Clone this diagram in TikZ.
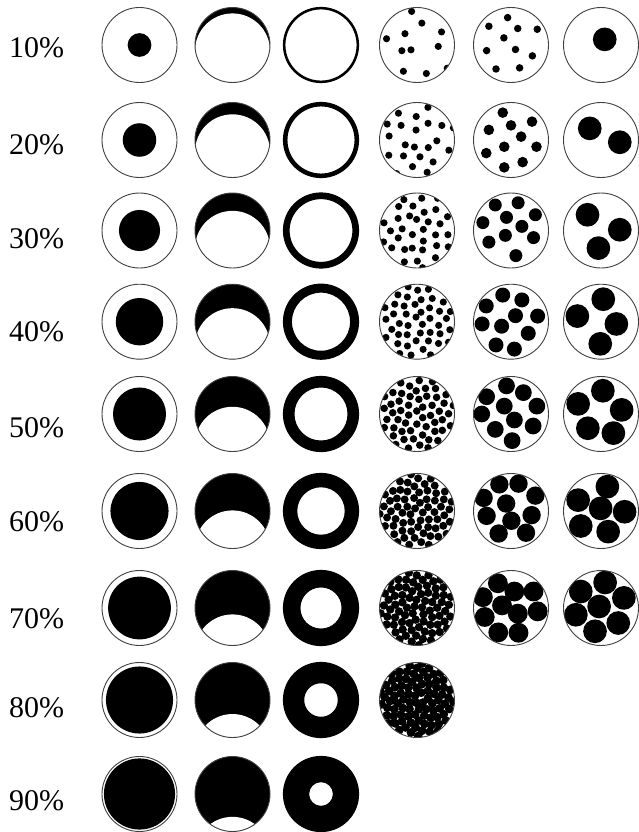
\documentclass[tikz,border=0pt]{standalone}
\usepackage{fontspec}
\setmainfont{Liberation Serif}

\begin{document}
\begin{tikzpicture}[
  x=1pt, y=-1pt,
  rim/.style={draw=black!75, line width=0.9pt},
  pct/.style={font=\fontsize{30}{32}\selectfont, anchor=base west, inner sep=0pt}
]
\def\R{37.5}
\useasboundingbox (0,0) rectangle (638,832);

% --- Row labels and cell centres ---------------------------------------------
\foreach \k/\yc/\yb in {1/45/58,2/140/154,3/230.5/248,4/321.7/341,5/414/437,
                        6/511/531,7/608/628,8/700/717,9/794/810}{
  \node[pct] (lab\k) at (9,\yb) {\k0\%};
  \coordinate (c1-\k) at (139.5,\yc);
  \coordinate (c2-\k) at (232.5,\yc);
  \coordinate (c3-\k) at (321,\yc);
  \coordinate (c4-\k) at (417,\yc);
  \coordinate (c5-\k) at (511,\yc);
  \coordinate (c6-\k) at (601,\yc);
}

% --- Column 1: central disc --------------------------------------------------
\foreach \k in {1,...,9}{
  \fill (c1-\k) circle ({\R*sqrt(\k/10)*1pt});
  \draw[rim] (c1-\k) circle (\R pt);
}

% --- Column 2: crescent (offset circle cut out) ------------------------------
\foreach \k/\xs in {1/0.0788,2/0.1577,3/0.2379,4/0.3197,5/0.4039,
                    6/0.492,7/0.5853,8/0.687,9/0.8045}{
  \begin{scope}[shift={(c2-\k)}]
    \clip (0,0) circle (\R pt);
    \fill (0,0) circle (\R pt);
    \fill[white] (0,{2*\xs*\R}) circle (\R pt);
  \end{scope}
  \draw[rim] (c2-\k) circle (\R pt);
}

% --- Column 3: ring ----------------------------------------------------------
\foreach \k in {1,...,9}{
  \fill[even odd rule] (c3-\k) circle (\R pt) (c3-\k) circle ({\R*sqrt(1-\k/10)*1pt});
  \draw[draw=black, line width=1.2pt] (c3-\k) circle (\R pt);
}

% --- Column 4: many fine particles -------------------------------------------
\pgfmathsetseed{4217}
\foreach \k in {1,...,8}{
  \pgfmathtruncatemacro\N{11*\k}
  \pgfmathsetmacro\jit{max(0,0.4*(sqrt(pi/\N)-0.19))}
  \pgfmathsetmacro\rot{360*rnd}
  \pgfmathsetmacro\rp{3.57*(1+0.06*max(0,\k-4))}
  \begin{scope}[shift={(c4-\k)}]
    \clip (0,0) circle (\R pt);
    \foreach \i in {1,...,\N}{
      \pgfmathsetmacro\rr{1.0*sqrt((\i-0.5)/\N)}
      \pgfmathsetmacro\aa{\i*137.508+\rot}
      \fill ({(\rr*cos(\aa)+\jit*rand)*\R},{(\rr*sin(\aa)+\jit*rand)*\R}) circle (\rp pt);
    }
  \end{scope}
  \draw[rim] (c4-\k) circle (\R pt);
}

% --- Column 5: ten particles -------------------------------------------------
\foreach \k/\pts in {
  1/{-0.09/-0.73,-0.59/-0.50,0.18/-0.44,0.70/-0.42,-0.19/-0.19,-0.65/0.15,0.12/0.12,0.57/0.29,-0.40/0.64,0.23/0.61},
  2/{-0.22/-0.73,-0.59/-0.27,0.00/-0.39,0.56/-0.49,0.27/-0.09,-0.18/0.18,0.68/0.18,-0.66/0.35,0.31/0.59,-0.18/0.73},
  3/{-0.42/-0.68,0.19/-0.74,0.65/-0.42,-0.75/-0.21,-0.12/-0.35,0.29/-0.11,-0.15/0.13,0.60/0.19,-0.59/0.31,0.13/0.67},
  4/{-0.22/-0.71,-0.66/-0.42,0.29/-0.58,0.12/-0.16,0.71/-0.15,-0.77/0.06,-0.25/0.12,0.46/0.31,-0.40/0.62,0.09/0.73},
  5/{-0.12/-0.75,-0.65/-0.46,0.33/-0.57,-0.18/-0.21,0.69/-0.21,-0.78/0.00,0.09/0.16,-0.42/0.41,0.59/0.32,0.03/0.71},
  6/{-0.31/-0.71,0.20/-0.73,-0.73/-0.35,0.65/-0.41,-0.13/-0.20,-0.65/0.13,0.01/0.26,0.55/0.11,-0.33/0.60,0.40/0.58},
  7/{-0.35/-0.66,0.09/-0.44,0.60/-0.44,-0.75/-0.29,-0.24/-0.07,0.18/0.15,0.71/0.09,-0.70/0.24,-0.34/0.65,0.20/0.66}}{
  \pgfmathsetmacro\rd{\R*sqrt(\k/100)}
  \begin{scope}[shift={(c5-\k)}]
    \clip (0,0) circle (\R pt);
    \foreach \dx/\dy in \pts \fill (\dx*\R,\dy*\R) circle (\rd pt);
  \end{scope}
  \draw[rim] (c5-\k) circle (\R pt);
}

% --- Column 6: coarse particles, 10% each ------------------------------------
\foreach \k/\pts in {
  1/{0.10/-0.15},
  2/{-0.30/-0.31,0.50/0.06},
  3/{-0.36/-0.42,0.50/-0.02,-0.07/0.47},
  4/{0.06/-0.60,-0.63/-0.15,0.41/0.06,-0.02/0.59},
  5/{0.05/-0.62,-0.61/-0.27,0.55/-0.11,-0.35/0.38,0.33/0.51},
  6/{0.17/-0.65,-0.61/-0.29,-0.01/-0.07,0.63/0.02,-0.54/0.40,0.19/0.55},
  7/{0.11/-0.68,-0.54/-0.44,0.61/-0.27,-0.05/-0.04,-0.67/0.18,0.46/0.40,-0.16/0.62}}{
  \begin{scope}[shift={(c6-\k)}]
    \clip (0,0) circle (\R pt);
    \foreach \dx/\dy in \pts \fill (\dx*\R,\dy*\R) circle ({\R*sqrt(0.1)*1pt});
  \end{scope}
  \draw[rim] (c6-\k) circle (\R pt);
}

\end{tikzpicture}
\end{document}
